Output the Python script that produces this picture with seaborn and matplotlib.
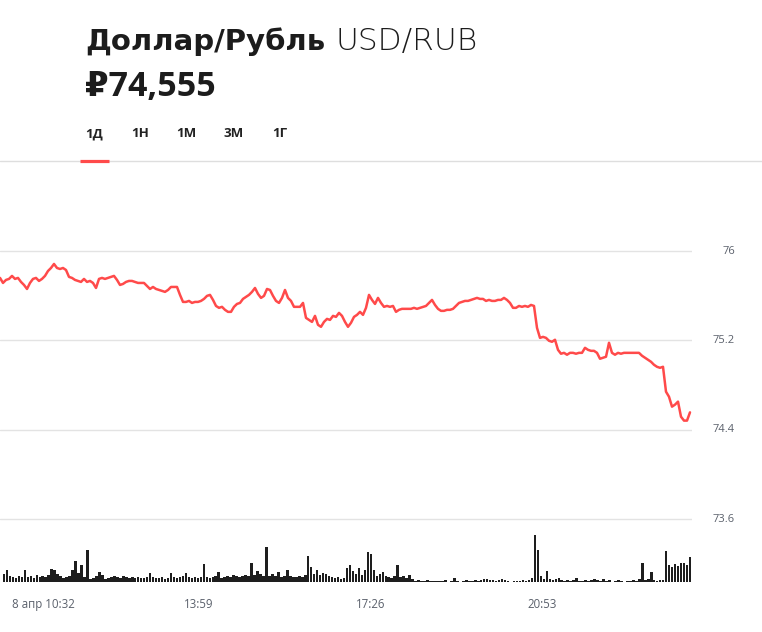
import numpy as np
import pandas as pd
import matplotlib
matplotlib.use("Agg")
import matplotlib.pyplot as plt
import seaborn as sns

# ---------------- data ----------------
title_ru = "Доллар/Рубль"
title_code = "USD/RUB"
last_price = "₽74,555"
periods = ["1Д", "1Н", "1М", "3М", "1Г"]

price_ticks = [73.6, 74.4, 75.2, 76.0]
price_tick_labels = ["73.6", "74.4", "75.2", "76"]

# minutes after 8 апр 10:32 for the time labels
time_tick_minutes = [0, 207, 414, 621]
time_tick_labels = ["8 апр 10:32", "13:59", "17:26", "20:53"]

prices = [
    75.759, 75.714, 75.741, 75.750, 75.777, 75.750, 75.759, 75.723, 75.696, 75.660,
    75.714, 75.750, 75.759, 75.732, 75.750, 75.777, 75.821, 75.848, 75.884, 75.848,
    75.839, 75.848, 75.830, 75.768, 75.759, 75.741, 75.732, 75.723, 75.750, 75.723,
    75.732, 75.714, 75.669, 75.750, 75.759, 75.750, 75.759, 75.768, 75.777, 75.741,
    75.696, 75.705, 75.723, 75.732, 75.732, 75.723, 75.714, 75.714, 75.714, 75.687,
    75.660, 75.678, 75.660, 75.651, 75.643, 75.634, 75.651, 75.678, 75.678, 75.678,
    75.607, 75.544, 75.544, 75.553, 75.535, 75.544, 75.544, 75.553, 75.571, 75.598,
    75.607, 75.562, 75.508, 75.491, 75.500, 75.473, 75.455, 75.455, 75.500, 75.526,
    75.535, 75.571, 75.589, 75.607, 75.634, 75.669, 75.616, 75.580, 75.598, 75.660,
    75.651, 75.598, 75.553, 75.535, 75.580, 75.651, 75.580, 75.553, 75.500, 75.500,
    75.500, 75.535, 75.401, 75.383, 75.365, 75.419, 75.339, 75.321, 75.365, 75.392,
    75.383, 75.419, 75.410, 75.446, 75.419, 75.365, 75.321, 75.357, 75.410, 75.428,
    75.455, 75.428, 75.491, 75.607, 75.562, 75.526, 75.580, 75.535, 75.500, 75.508,
    75.500, 75.508, 75.455, 75.473, 75.482, 75.482, 75.482, 75.482, 75.491, 75.482,
    75.491, 75.500, 75.508, 75.535, 75.562, 75.517, 75.482, 75.464, 75.464, 75.473,
    75.473, 75.482, 75.508, 75.535, 75.544, 75.553, 75.553, 75.562, 75.571, 75.580,
    75.571, 75.571, 75.553, 75.562, 75.553, 75.553, 75.562, 75.562, 75.580, 75.562,
    75.535, 75.491, 75.491, 75.508, 75.500, 75.508, 75.500, 75.517, 75.508, 75.312,
    75.222, 75.231, 75.222, 75.196, 75.187, 75.205, 75.115, 75.080, 75.088, 75.071,
    75.088, 75.088, 75.080, 75.088, 75.088, 75.133, 75.115, 75.106, 75.106, 75.088,
    75.035, 75.044, 75.053, 75.178, 75.088, 75.071, 75.088, 75.080, 75.088, 75.088,
    75.088, 75.088, 75.088, 75.088, 75.062, 75.044, 75.026, 75.008, 74.981, 74.963,
    74.954, 74.963, 74.740, 74.695, 74.606, 74.624, 74.651, 74.516, 74.481, 74.481,
    74.555,
]

volumes = [
    8, 12, 6, 5, 4, 6, 5, 12, 5, 6, 4, 7, 5, 6, 5, 7, 13, 12, 8, 6,
    4, 5, 6, 12, 21, 9, 17, 5, 32, 3, 4, 6, 10, 7, 3, 4, 5, 6, 5, 4,
    6, 5, 4, 5, 4, 5, 4, 4, 5, 9, 5, 4, 4, 5, 3, 4, 9, 5, 4, 5,
    6, 9, 5, 4, 5, 4, 5, 18, 5, 4, 5, 6, 10, 4, 5, 6, 5, 7, 6, 5,
    6, 7, 6, 19, 7, 11, 8, 6, 35, 6, 8, 6, 10, 5, 6, 12, 6, 5, 5, 6,
    5, 7, 26, 15, 8, 12, 7, 9, 8, 6, 5, 4, 5, 3, 4, 14, 17, 11, 8, 14,
    7, 12, 30, 28, 12, 6, 8, 10, 6, 5, 4, 6, 17, 5, 6, 4, 7, 3, 1, 2,
    1, 1, 2, 1, 1, 1, 1, 1, 2, 0, 1, 4, 1, 0, 1, 2, 1, 1, 2, 1,
    2, 3, 3, 2, 2, 1, 2, 3, 2, 1, 0, 1, 1, 1, 2, 1, 2, 4, 47, 32,
    6, 3, 11, 3, 2, 3, 4, 2, 1, 2, 1, 2, 4, 1, 1, 2, 1, 2, 3, 2,
    1, 3, 1, 2, 0, 1, 2, 1, 0, 1, 1, 2, 1, 3, 19, 2, 3, 10, 2, 1,
    2, 2, 31, 17, 15, 18, 16, 19, 19, 17, 25,
]

# sampling grid: first sample a few minutes after 10:32, ~3.59 min apart
step_min = 3.59
start_min = 4.8
minutes = start_min + step_min * np.arange(len(prices))

df = pd.DataFrame({"minute": minutes, "price": prices, "volume": volumes})

# ---------------- figure ----------------
W, H = 762, 632
fig = plt.figure(figsize=(W / 100, H / 100), dpi=100)
sns.set_style("white")
plt.rcParams["font.family"] = ["Open Sans", "DejaVu Sans"]

def fx(px):
    return px / W

def fy(py):
    return 1 - py / H

RED = "#ff4a4a"
GRID = "#e3e3e3"
LABEL = "#5a606b"
INK = "#1c1c1c"

# header texts
t1 = fig.text(fx(85), fy(50), title_ru, fontsize=21, fontweight="bold",
              color=INK, va="baseline", ha="left",
              family=["DejaVu Sans"])
fig.canvas.draw()
bb = t1.get_window_extent()
fig.text((bb.x1 + 10) / W, fy(50), title_code, fontsize=22.5, fontweight="light",
         color=INK, va="baseline", ha="left",
         family=["DejaVu Sans"])
fig.text(fx(85), fy(96), last_price, fontsize=24.5, fontweight="bold",
         color=INK, va="baseline", ha="left",
         family=["Open Sans", "DejaVu Sans"])

tab_x = [85, 131, 176, 223, 272]
for x, p in zip(tab_x, periods):
    fig.text(fx(x), fy(137), p, fontsize=9.5, fontweight="bold",
             color="#222222", va="baseline", ha="left",
             family=["Open Sans", "DejaVu Sans"])

# header separator and active tab underline
fig.add_artist(plt.Line2D([0, 1], [fy(161), fy(161)], color="#dedede", lw=1,
                          transform=fig.transFigure))
fig.add_artist(plt.Line2D([fx(80), fx(109)], [fy(160.5), fy(160.5)], color=RED,
                          lw=2.3, transform=fig.transFigure, solid_capstyle="butt"))

# ---------------- price axes ----------------
ax_left, ax_right = 0, 692
p_top, p_bot = 200, 525
ax1 = fig.add_axes([fx(ax_left), fy(p_bot), fx(ax_right - ax_left), (p_bot - p_top) / H])
ppu = (519 - 251) / (76.0 - 73.6)
ax1.set_ylim(73.6 - (p_bot - 519) / ppu, 76.0 + (251 - p_top) / ppu)
xlim = (start_min, start_min + step_min * (692 / 3.0))
ax1.set_xlim(*xlim)

sns.lineplot(data=df, x="minute", y="price", ax=ax1, color=RED, lw=1.8, zorder=3)

ax1.set_yticks(price_ticks)
ax1.set_yticklabels([])
ax1.tick_params(axis="y", length=0)
ax1.set_xticks([])
ax1.grid(axis="y", color=GRID, lw=1)
ax1.set_xlabel("")
ax1.set_ylabel("")
for s in ax1.spines.values():
    s.set_visible(False)
for v, lab in zip(price_ticks, price_tick_labels):
    ax1.text(735 / 692, v, lab, transform=ax1.get_yaxis_transform(),
             ha="right", va="center", fontsize=8, color=LABEL,
             family=["Open Sans", "DejaVu Sans"])

# ---------------- volume axes ----------------
v_top, v_bot = 530, 582
ax2 = fig.add_axes([fx(ax_left), fy(v_bot), fx(ax_right - ax_left), (v_bot - v_top) / H])
sns.barplot(data=df, x="minute", y="volume", ax=ax2, native_scale=True,
            color="#1e1e1e", width=0.85, linewidth=0, saturation=1)
ax2.set_xlim(*xlim)
ax2.set_ylim(0, v_bot - v_top)
ax2.set_yticks([])
ax2.set_xlabel("")
ax2.set_ylabel("")
for s in ax2.spines.values():
    s.set_visible(False)
ax2.set_xticks(time_tick_minutes)
ax2.set_xticklabels([])
ax2.tick_params(axis="x", length=22, width=1, color="#dcdcdc", direction="out")
for m, lab in zip(time_tick_minutes, time_tick_labels):
    ax2.annotate(lab, xy=(m, 0), xycoords=("data", "axes fraction"),
                 xytext=(8.6, -16.5), textcoords="offset points",
                 ha="left", va="center", fontsize=8.3, color=LABEL,
                 annotation_clip=False, family=["Open Sans", "DejaVu Sans"])

fig.savefig("out.png", dpi=100)
